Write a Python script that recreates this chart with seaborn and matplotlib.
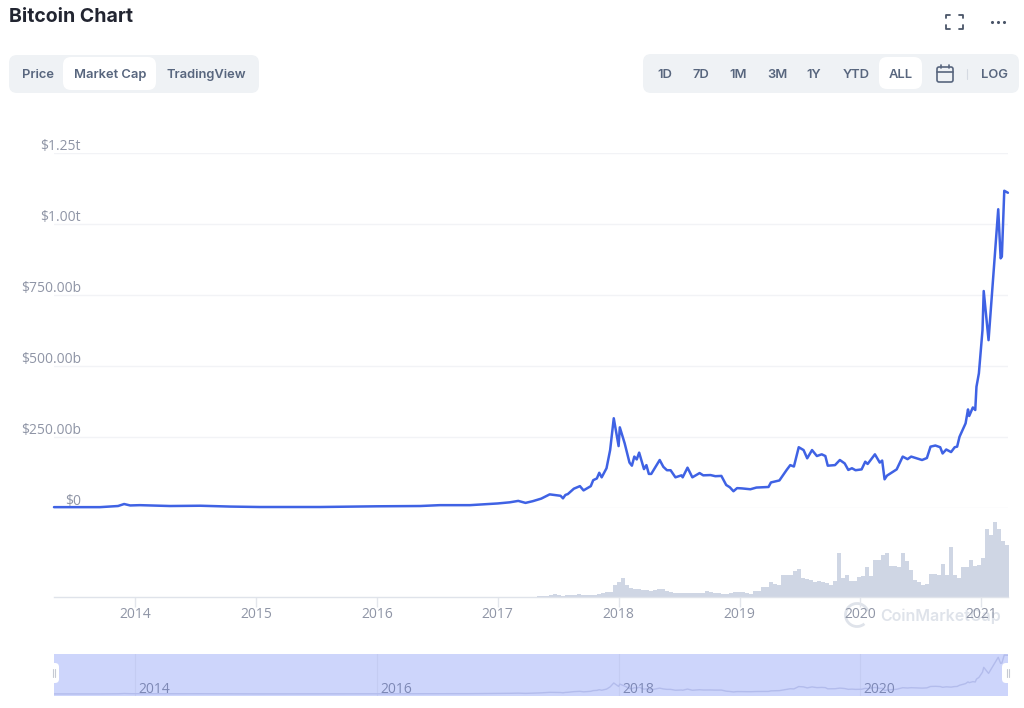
import matplotlib
matplotlib.use('Agg')
import matplotlib.pyplot as plt
from matplotlib.patches import FancyBboxPatch, Arc
import numpy as np
import pandas as pd
import seaborn as sns

# market cap in $ billions
cap_year = [2013.33, 2013.71, 2013.86, 2013.91, 2013.96, 2014.04, 2014.12, 2014.29, 2014.54, 2014.79,
            2015.03, 2015.53, 2016.00, 2016.36, 2016.52, 2016.77, 2017.00,
            2017.10, 2017.17, 2017.23, 2017.29, 2017.36, 2017.43, 2017.52, 2017.54, 2017.56,
            2017.58, 2017.63, 2017.68, 2017.71, 2017.77, 2017.79, 2017.82, 2017.84, 2017.86,
            2017.90, 2017.93, 2017.96, 2018.00, 2018.01, 2018.05, 2018.09, 2018.11, 2018.13,
            2018.15, 2018.17, 2018.21, 2018.23, 2018.25, 2018.27, 2018.34, 2018.37, 2018.40,
            2018.43, 2018.47, 2018.52, 2018.53, 2018.57, 2018.61, 2018.67, 2018.70, 2018.76,
            2018.80, 2018.85, 2018.89, 2018.92, 2018.95, 2018.98, 2019.02, 2019.09, 2019.14,
            2019.24, 2019.26, 2019.33, 2019.39, 2019.42, 2019.45, 2019.49, 2019.53, 2019.56,
            2019.60, 2019.64, 2019.68, 2019.71, 2019.73, 2019.79, 2019.83, 2019.87, 2019.90,
            2019.93, 2019.96, 2020.01, 2020.04, 2020.06, 2020.12, 2020.16, 2020.18, 2020.20,
            2020.22, 2020.30, 2020.35, 2020.39, 2020.42, 2020.51, 2020.55, 2020.58, 2020.62,
            2020.66, 2020.68, 2020.71, 2020.75, 2020.78, 2020.80, 2020.82, 2020.87, 2020.89,
            2020.90, 2020.93, 2020.95, 2020.96, 2020.98, 2021.01, 2021.02, 2021.06, 2021.14,
            2021.16, 2021.17, 2021.19, 2021.22]
cap_value = [3, 3, 7, 14, 9, 10, 9, 7, 8, 5,
             3.5, 3.5, 6, 7, 10, 10, 16,
             20, 25, 18, 24, 33, 48, 43, 34, 46,
             49, 68, 77, 62, 77, 98, 104, 124, 108,
             140, 204, 316, 218, 284, 228, 160, 149, 181,
             171, 195, 137, 151, 120, 120, 169, 145, 133,
             133, 108, 115, 108, 142, 108, 123, 115, 116,
             112, 113, 81, 73, 59, 70, 69, 66, 72,
             74, 90, 97, 134, 151, 146, 214, 204, 175,
             204, 183, 189, 183, 149, 151, 169, 157, 134,
             140, 133, 136, 163, 155, 189, 160, 167, 101,
             114, 136, 181, 172, 181, 169, 176, 216, 220,
             214, 192, 206, 197, 214, 216, 251, 298, 347,
             324, 354, 345, 427, 474, 627, 764, 591, 1052,
             879, 885, 1117, 1110]

# volume bars, oldest first (same estimate, arbitrary units)
volume = [0.5, 1, 1, 2, 2.5, 1.5, 1, 1.5, 1.5, 2, 3, 2, 2, 1.5, 2, 2.5, 4, 4.5, 5,
          12, 15, 19, 12, 9, 8, 7.5, 7, 6.5, 6, 6.5, 8, 8, 5.5, 4.5, 3.5, 3.5, 4, 4, 4, 4,
          3.5, 4, 6, 5, 3.5, 3.5, 3, 3, 4, 5, 5, 5, 3.5, 3, 6, 6,
          10, 10, 15, 13, 12, 22, 22, 22, 26, 28, 19, 18, 17, 15, 16, 15, 14, 12, 16,
          44, 19, 22, 16, 16, 20, 21, 30, 21, 37, 37, 42, 44, 31, 31, 30, 44, 36, 27,
          17, 15, 12, 13, 23, 23, 22, 33, 22, 50, 22, 19, 30, 30, 37, 31, 32, 39,
          68, 62, 75, 68, 56, 52]

y_ticks = [0, 250, 500, 750, 1000, 1250]
y_labels = ['$0', '$250.00b', '$500.00b', '$750.00b', '$1.00t', '$1.25t']
years = [2014, 2015, 2016, 2017, 2018, 2019, 2020, 2021]
nav_years = [2014, 2016, 2018, 2020]
tab_labels = ['Price', 'Market Cap', 'TradingView']
range_labels = ['1D', '7D', '1M', '3M', '1Y', 'YTD', 'ALL']

W, H = 1024, 708
X_MIN = 2014 + (54 - 135) / 120.9
X_MAX = 2014 + (1008 - 135) / 120.9
BAR_W = 4 / 120.9
BAR_START = 2014 + (536.8 - 135) / 120.9
UI_FONT = 'Inter'
AXIS_FONT = 'Open Sans'
AXIS_GREY = '#8f95a6'
UI_GREY = '#58667e'


def add_axes_px(fig, left, top, right, bottom):
    return fig.add_axes([left / W, 1 - bottom / H, (right - left) / W, (bottom - top) / H])


def pill(ax, x0, y0, x1, y1, color, r=8, z=1):
    ax.add_patch(FancyBboxPatch((x0, y0), x1 - x0, y1 - y0, boxstyle=f'round,pad=0,rounding_size={r}',
                                facecolor=color, edgecolor='none', zorder=z))


sns.set_theme(style='white')
fig = plt.figure(figsize=(W / 100, H / 100), dpi=100, facecolor='white')

# page furniture in pixel coordinates
ui = fig.add_axes([0, 0, 1, 1], zorder=0)
ui.set_xlim(0, W)
ui.set_ylim(H, 0)
ui.axis('off')

ui.text(9, 17, 'Bitcoin Chart', fontsize=14, fontweight='bold', family=UI_FONT, color='#222531', va='center')

pill(ui, 9, 55, 259, 93, '#eff2f5')
pill(ui, 63, 57, 156, 90, 'white', z=2)
for label, cx in zip(tab_labels, [38, 110, 206]):
    ui.text(cx, 75, label, fontsize=9.3, fontweight='semibold', family=UI_FONT, color=UI_GREY,
            ha='center', va='center', zorder=3)

pill(ui, 643, 54, 1019, 93, '#eff2f5')
pill(ui, 879, 57, 922, 89, 'white', z=2)
for label, cx in zip(range_labels, [665, 701, 738, 777, 814, 856, 901]):
    ui.text(cx, 75, label, fontsize=9.3, fontweight='semibold', family=UI_FONT, color=UI_GREY,
            ha='center', va='center', zorder=3)
ui.text(994, 75, 'LOG', fontsize=9.3, fontweight='semibold', family=UI_FONT, color=UI_GREY,
        ha='center', va='center', zorder=3)
ui.plot([967, 967], [69, 79], color='#d5dae2', lw=0.8, zorder=3)

# calendar icon
ui.add_patch(FancyBboxPatch((937, 67), 16, 15, boxstyle='round,pad=0,rounding_size=2', facecolor='none',
                            edgecolor=UI_GREY, lw=1.2, zorder=3))
ui.plot([937, 953], [71.5, 71.5], color=UI_GREY, lw=1.2, zorder=3)
ui.plot([941, 941], [65, 68], color=UI_GREY, lw=1.2, zorder=3)
ui.plot([949, 949], [65, 68], color=UI_GREY, lw=1.2, zorder=3)

# fullscreen corners and the dots menu
for xs, ys in [([946, 946, 950], [18, 14.5, 14.5]), ([959, 963, 963], [14.5, 14.5, 18]),
               ([946, 946, 950], [25, 28.5, 28.5]), ([959, 963, 963], [28.5, 28.5, 25])]:
    ui.plot(xs, ys, color='#4a5568', lw=1.3, zorder=3)
ui.scatter([992, 998, 1004], [22, 22, 22], s=5, color='#4a5568', linewidths=0, zorder=3)

# watermark sits under the year labels
ui.add_patch(Arc((857, 615), 23, 23, theta1=50, theta2=340, edgecolor='#dfe3ea', lw=2, zorder=1))
ui.text(880, 616, 'CoinMarketCap', fontsize=11.5, fontweight='semibold', family=UI_FONT, color='#dfe3ea',
        va='center', zorder=1)

# main line
ax = add_axes_px(fig, 54, 153, 1008, 508)
ax.patch.set_alpha(0)
ax.set_zorder(2)
sns.lineplot(x=cap_year, y=cap_value, ax=ax, color='#3f62e4', lw=1.8, errorbar=None, clip_on=False)
ax.set_xlim(X_MIN, X_MAX)
ax.set_ylim(0, 1250)
ax.set_xticks([])
ax.set_yticks(y_ticks)
ax.set_yticklabels([])
ax.tick_params(axis='y', length=0)
ax.grid(axis='y', color='#f2f3f6', lw=1)
ax.set_axisbelow(True)
sns.despine(ax=ax, left=True, bottom=True)
for tick, label in zip(y_ticks, y_labels):
    ax.annotate(label, xy=(27 / 954, tick), xycoords=('axes fraction', 'data'), xytext=(0, 4.7), textcoords='offset points',
                ha='right', va='center', fontsize=10, family=AXIS_FONT, color=AXIS_GREY)

# volume bars and the year axis
ax_vol = add_axes_px(fig, 54, 522, 1008, 597)
ax_vol.patch.set_alpha(0)
ax_vol.set_zorder(2)
edges = BAR_START + BAR_W * np.arange(len(volume) + 1)
vol_df = pd.DataFrame({'year': (edges[:-1] + edges[1:]) / 2, 'volume': volume})
sns.histplot(data=vol_df, x='year', weights='volume', bins=list(edges), element='step', color='#cfd6e4', alpha=1,
             linewidth=0, ax=ax_vol)
ax_vol.set_xlim(X_MIN, X_MAX)
ax_vol.set_ylim(0, 75)
ax_vol.set_xlabel('')
ax_vol.set_ylabel('')
ax_vol.set_yticks([])
ax_vol.set_xticks(years)
ax_vol.set_xticklabels(years, fontsize=10, family=AXIS_FONT, color=AXIS_GREY)
ax_vol.tick_params(axis='x', length=7, width=1, color='#e3e6ec', pad=0.5, bottom=True)
sns.despine(ax=ax_vol, left=True)
ax_vol.spines['bottom'].set_color('#dfe3ea')
ax_vol.spines['bottom'].set_linewidth(1)

# navigator strip
ax_nav = add_axes_px(fig, 54, 654, 1008, 696)
ax_nav.set_zorder(1)
ax_nav.set_facecolor('#cdd5fb')
sns.lineplot(x=cap_year, y=cap_value, ax=ax_nav, color='#b3bcec', lw=1, errorbar=None)
ax_nav.set_xlim(X_MIN, X_MAX)
ax_nav.set_ylim(-57, 1146)
ax_nav.set_xlabel('')
ax_nav.set_xticks(nav_years)
ax_nav.set_xticklabels([])
ax_nav.set_yticks([])
ax_nav.tick_params(axis='x', length=0)
ax_nav.grid(axis='x', color='#c4ccf2', lw=0.8)
ax_nav.set_axisbelow(True)
for side in ax_nav.spines:
    ax_nav.spines[side].set_visible(False)
for year in nav_years:
    ax_nav.annotate(str(year), xy=(year, 0), xycoords=('data', 'axes fraction'), xytext=(2.5, -1), textcoords='offset points',
                    ha='left', va='bottom', fontsize=10, family=AXIS_FONT, color='#7d88b5')

# navigator handles, above everything
top = fig.add_axes([0, 0, 1, 1], zorder=5)
top.set_xlim(0, W)
top.set_ylim(H, 0)
top.axis('off')
for x0 in [48, 1002]:
    pill(top, x0, 663, x0 + 11, 683, 'white', r=4)
    top.plot([x0 + 4.5, x0 + 4.5], [669, 677], color='#c6cad3', lw=0.8, zorder=3)
    top.plot([x0 + 6.5, x0 + 6.5], [669, 677], color='#c6cad3', lw=0.8, zorder=3)

fig.savefig('out.png', dpi=100)
